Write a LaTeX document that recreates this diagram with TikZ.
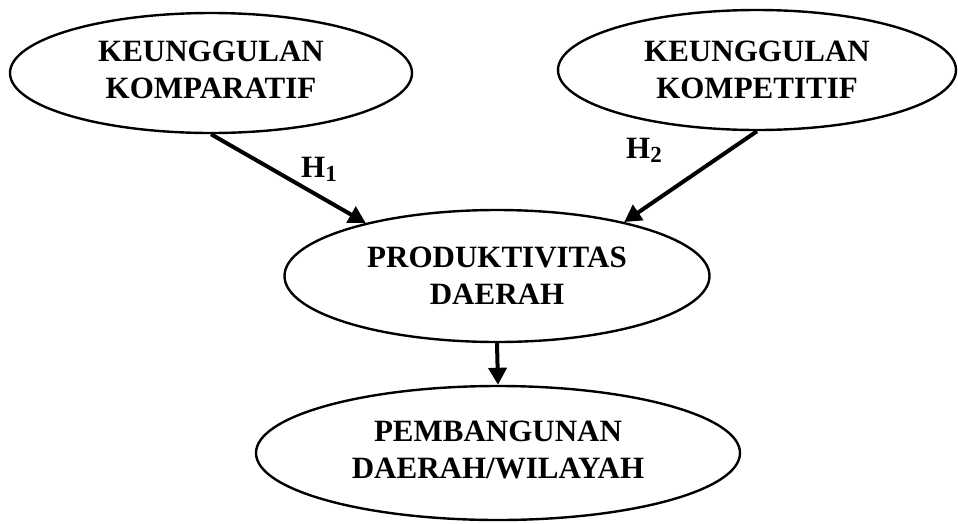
\documentclass[tikz,border=0pt]{standalone}
\usepackage{fontspec}
\setmainfont{Liberation Serif}
\usetikzlibrary{shapes.geometric,arrows.meta}
\newcommand{\hsub}[1]{{\fontsize{23}{23}\selectfont\raisebox{-4pt}{#1}}}
\begin{document}
\begin{tikzpicture}[x=1pt,y=-1pt,
  ell/.style={draw,ellipse,line width=2.4pt,inner sep=0pt,align=center,
    font=\fontsize{31}{37}\selectfont\bfseries},
  conn/.style={line width=4pt,-{Triangle[length=17pt,width=18pt]}},
  hlab/.style={anchor=base west,inner sep=0pt,font=\fontsize{31}{37}\selectfont\bfseries}]
\useasboundingbox (0,0) rectangle (958,523);
\node[ell,minimum width=402pt,minimum height=120pt] (e1) at (211,73)
  {\raisebox{-5pt}{\begin{tabular}{@{}c@{}}KEUNGGULAN\\KOMPARATIF\end{tabular}}};
\node[ell,minimum width=398pt,minimum height=120pt] (e2) at (757,70)
  {KEUNGGULAN\\KOMPETITIF};
\node[ell,minimum width=425pt,minimum height=132pt] (e3) at (497,276)
  {PRODUKTIVITAS\\DAERAH};
\node[ell,minimum width=484pt,minimum height=134pt] (e4) at (498,453)
  {\raisebox{-3pt}{\begin{tabular}{@{}c@{}}PEMBANGUNAN\\DAERAH/WILAYAH\end{tabular}}};
\draw[conn] (e1.south) -- (e3.158.6);
\draw[conn] (e2.south) -- (e3.23.4);
\draw[conn] (e3.south) -- (e4.north);
\node[hlab] (h1) at (301,177) {H\hsub{1}};
\node[hlab] (h2) at (626,158) {H\hsub{2}};
\end{tikzpicture}
\end{document}
